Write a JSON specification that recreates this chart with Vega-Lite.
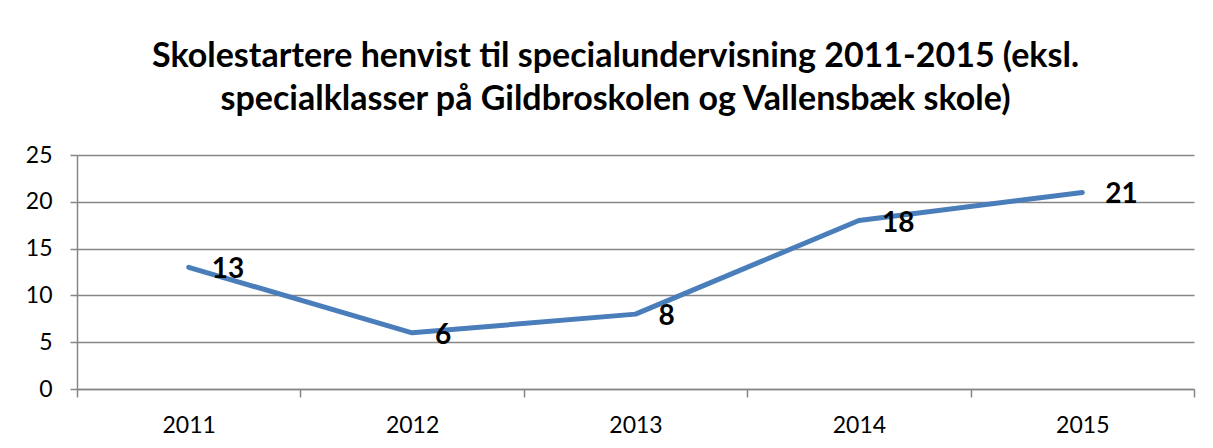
{
  "$schema": "https://vega.github.io/schema/vega-lite/v6.json",
  "autosize": {"type": "none"},
  "width": 1117,
  "height": 234,
  "padding": {"left": 77, "top": 155, "right": 19, "bottom": 59},
  "background": "white",
  "title": {
    "text": ["Skolestartere henvist til specialundervisning 2011-2015 (eksl.", "specialklasser på Gildbroskolen og Vallensbæk skole)"],
    "font": "Lato",
    "fontSize": 34,
    "fontWeight": "bold",
    "color": "black",
    "anchor": "middle",
    "frame": "group",
    "dx": -20,
    "lineHeight": 43,
    "baseline": "alphabetic",
    "offset": 0
  },
  "config": {
    "view": {"stroke": null},
    "axis": {"labelFont": "Lato", "labelFontSize": 23, "labelColor": "black", "domainColor": "#868686", "tickColor": "#868686", "gridColor": "#868686", "title": null}
  },
  "data": {"values": [
    {"year": "2011", "value": 13},
    {"year": "2012", "value": 6},
    {"year": "2013", "value": 8},
    {"year": "2014", "value": 18},
    {"year": "2015", "value": 21}
  ]},
  "encoding": {
    "x": {"field": "year", "type": "ordinal", "scale": {"type": "band", "paddingInner": 0, "paddingOuter": 0},
      "axis": {"labelAngle": 0, "tickBand": "extent", "tickSize": 8, "labelPadding": 17, "grid": false, "domainWidth": 1.5, "tickWidth": 1.5}},
    "y": {"field": "value", "type": "quantitative", "scale": {"domain": [0, 25], "nice": false},
      "axis": {"values": [0, 5, 10, 15, 20, 25], "grid": true, "gridWidth": 1.5, "tickSize": 7, "labelPadding": 18, "domainWidth": 1.5, "tickWidth": 1.5}}
  },
  "layer": [
    {"mark": {"type": "line", "color": "#4A7EBB", "strokeWidth": 5, "strokeJoin": "round", "strokeCap": "round"}},
    {"mark": {"type": "text", "align": "left", "baseline": "middle", "dx": 23, "dy": 3, "font": "Lato", "fontSize": 28, "fontWeight": "bold", "color": "black"},
      "encoding": {"text": {"field": "value", "type": "quantitative"}}}
  ]
}
